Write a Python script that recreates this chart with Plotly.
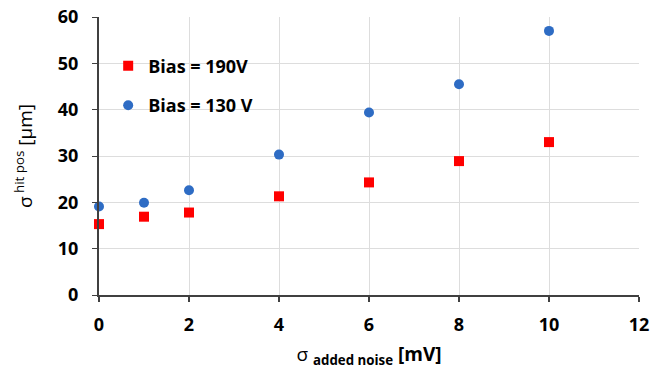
import plotly.graph_objects as go

noise_mv = [0, 1, 2, 4, 6, 8, 10]
sigma_190v = [15.3, 16.9, 17.8, 21.3, 24.3, 28.9, 33.0]
sigma_130v = [19.1, 19.9, 22.6, 30.3, 39.4, 45.5, 57.0]
x_ticks = [0, 2, 4, 6, 8, 10, 12]
y_ticks = [0, 10, 20, 30, 40, 50, 60]

font_family = "Open Sans, Liberation Sans, sans-serif"

fig = go.Figure()
fig.add_trace(go.Scatter(
    x=noise_mv, y=sigma_190v, mode="markers", name="<b>Bias = 190V</b>",
    legendgroup="a", cliponaxis=False,
    marker=dict(symbol="square", size=10, color="#FF0000"),
))
fig.add_trace(go.Scatter(
    x=noise_mv, y=sigma_130v, mode="markers", name="<b>Bias = 130 V</b>",
    legendgroup="b", cliponaxis=False,
    marker=dict(symbol="circle", size=10, color="#2E6CC4"),
))

fig.update_layout(
    width=651, height=369,
    margin=dict(l=99, r=12, t=17, b=74, autoexpand=False),
    paper_bgcolor="white", plot_bgcolor="white",
    font=dict(family=font_family, color="#000000"),
    legend=dict(
        x=0.017, y=0.89, xanchor="left", yanchor="top",
        font=dict(size=18, color="#000000"),
        tracegroupgap=13, traceorder="grouped",
        bgcolor="rgba(0,0,0,0)",
    ),
    xaxis=dict(
        range=[0, 12], tickvals=x_ticks,
        ticktext=[f"<b>{v}</b>" for v in x_ticks],
        tickfont=dict(size=18, color="#000000"),
        ticklabelstandoff=7, ticklabeloverflow="allow",
        showgrid=True, gridcolor="#DDDDDD", gridwidth=1,
        showline=True, linecolor="#404040", linewidth=2,
        ticks="outside", ticklen=5, tickcolor="#404040", tickwidth=2,
        zeroline=False, automargin=False,
        title=dict(text="σ <sub><b>added noise</b></sub> <b>[mV]</b>",
                   font=dict(size=19, color="#000000"), standoff=16),
    ),
    yaxis=dict(
        range=[0, 60], tickvals=y_ticks,
        ticktext=[f"<b>{v}</b>" for v in y_ticks],
        tickfont=dict(size=18, color="#000000"),
        ticklabelstandoff=10, ticklabeloverflow="allow",
        showgrid=True, gridcolor="#DDDDDD", gridwidth=1,
        showline=True, linecolor="#404040", linewidth=2,
        ticks="outside", ticklen=5, tickcolor="#404040", tickwidth=1,
        zeroline=False, automargin=False,
        title=dict(text="σ<sup> hit pos</sup> [μm]",
                   font=dict(size=19, color="#000000"), standoff=20),
    ),
)

fig.write_html(
    "out.html",
    config={"displayModeBar": False},
    post_script="document.body.style.margin='0';document.body.style.overflow='hidden';",
)
